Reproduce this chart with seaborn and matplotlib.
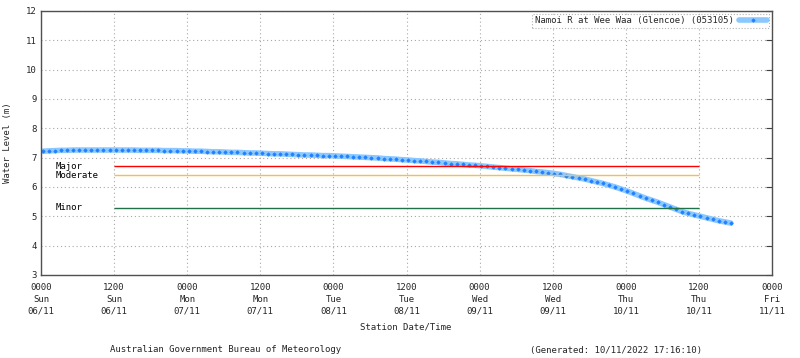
"""Namoi R at Wee Waa (Glencoe) - nivel del agua, estilo gráfico BoM."""
import pandas as pd
import matplotlib
matplotlib.use('Agg')
import matplotlib.pyplot as plt
import matplotlib.dates as mdates
import seaborn as sns

# Lecturas horarias (m), empezando el 06/11 00:15
start_time = '2022-11-06 00:15'
water_level = [
    7.22, 7.23, 7.24, 7.25, 7.25, 7.26,
    7.26, 7.26, 7.26, 7.26, 7.26, 7.26,
    7.26, 7.26, 7.26, 7.26, 7.25, 7.25,
    7.25, 7.25, 7.24, 7.24, 7.24, 7.23,
    7.23, 7.22, 7.22, 7.21, 7.20, 7.20,
    7.19, 7.18, 7.18, 7.17, 7.16, 7.16,
    7.15, 7.14, 7.13, 7.13, 7.12, 7.11,
    7.10, 7.09, 7.09, 7.08, 7.07, 7.07,
    7.06, 7.05, 7.04, 7.03, 7.02, 7.01,
    7.00, 6.99, 6.97, 6.96, 6.95, 6.93,
    6.92, 6.90, 6.89, 6.87, 6.85, 6.84,
    6.82, 6.80, 6.79, 6.77, 6.75, 6.74,
    6.72, 6.70, 6.68, 6.66, 6.64, 6.62,
    6.60, 6.58, 6.56, 6.53, 6.51, 6.49,
    6.46, 6.43, 6.39, 6.35, 6.31, 6.27,
    6.22, 6.17, 6.12, 6.06, 6.00, 5.93,
    5.86, 5.78, 5.70, 5.62, 5.55, 5.48,
    5.40, 5.32, 5.24, 5.16, 5.10, 5.05,
    5.00, 4.95, 4.90, 4.85, 4.81, 4.77,
]

# Niveles de inundación
flood_names = ['Major', 'Moderate', 'Minor']
flood_levels = [6.7, 6.4, 5.3]
flood_colors = ['#ff0000', '#f0c050', '#207048']
flood_start = '2022-11-06 12:00'
flood_end = '2022-11-10 12:00'

series_name = 'Namoi R at Wee Waa (Glencoe) (053105)'
MONO = 'DejaVu Sans Mono'
FS = 6.5


def main():
    sns.set_style('white')
    plt.rcParams['font.family'] = MONO
    plt.rcParams['font.size'] = FS

    df = pd.DataFrame({
        'time': pd.date_range(start_time, periods=len(water_level), freq='h'),
        'level': water_level,
    })

    fig = plt.figure(figsize=(8, 3.58), dpi=100)
    ax = fig.add_axes([41 / 800, 83 / 358, 731 / 800, 264 / 358])

    sns.lineplot(data=df, x='time', y='level', ax=ax, color='#8ac8ff', lw=4,
                 marker='D', markersize=1.6, markerfacecolor='#2080ff',
                 markeredgecolor='#2080ff', label=series_name)

    x0 = pd.Timestamp(flood_start)
    x1 = pd.Timestamp(flood_end)
    for name, lvl, col in zip(flood_names, flood_levels, flood_colors):
        ax.hlines(lvl, x0, x1, color=col, lw=1)
        ax.text(pd.Timestamp('2022-11-06 02:20'), lvl, name, va='center',
                ha='left', fontsize=FS, color='black')

    ax.set_xlim(pd.Timestamp('2022-11-06 00:00'), pd.Timestamp('2022-11-11 00:00'))
    ax.set_ylim(3, 12)
    ax.set_yticks(range(3, 13))
    ax.xaxis.set_major_locator(mdates.HourLocator(byhour=[0, 12]))
    ax.xaxis.set_minor_locator(mdates.HourLocator(byhour=range(0, 24, 3)))
    ax.xaxis.set_major_formatter(mdates.DateFormatter('%H%M\n%a\n%d/%m'))
    for lab in ax.get_xticklabels():
        lab.set_linespacing(1.35)

    ax.tick_params(axis='x', which='major', direction='in', length=4, pad=6,
                   labelsize=FS, color='#404040')
    ax.tick_params(axis='x', which='minor', direction='in', length=3,
                   color='#404040')
    ax.tick_params(axis='y', which='major', direction='in', length=4, pad=3,
                   labelsize=FS, right=True, color='#404040')

    ax.grid(True, which='major', color='#a8a8a8', linestyle=(0, (1, 2.5)), lw=0.8)
    for sp in ax.spines.values():
        sp.set_color('#505050')
        sp.set_linewidth(1)

    ax.set_xlabel('')
    ax.set_ylabel('')
    fig.text(406 / 800, 1 - 327 / 358, 'Station Date/Time', ha='center',
             va='center', fontsize=FS)
    fig.text(8 / 800, 1 - 143 / 358, 'Water Level (m)', ha='center',
             va='center', rotation=90, fontsize=FS)
    fig.text(226 / 800, 1 - 350 / 358, 'Australian Government Bureau of Meteorology',
             ha='center', va='center', fontsize=FS)
    fig.text(616 / 800, 1 - 350 / 358, '(Generated: 10/11/2022 17:16:10)',
             ha='center', va='center', fontsize=FS)

    leg = ax.legend(loc='upper right', markerfirst=False, fontsize=FS,
                    frameon=True, fancybox=False, borderaxespad=0.3,
                    handlelength=3, borderpad=0.3, handletextpad=0.6)
    leg.get_frame().set_edgecolor('#a0a0a0')
    leg.get_frame().set_linestyle(':')
    leg.get_frame().set_linewidth(0.8)

    fig.savefig('out.png', dpi=100)
    plt.close(fig)


if __name__ == '__main__':
    main()
